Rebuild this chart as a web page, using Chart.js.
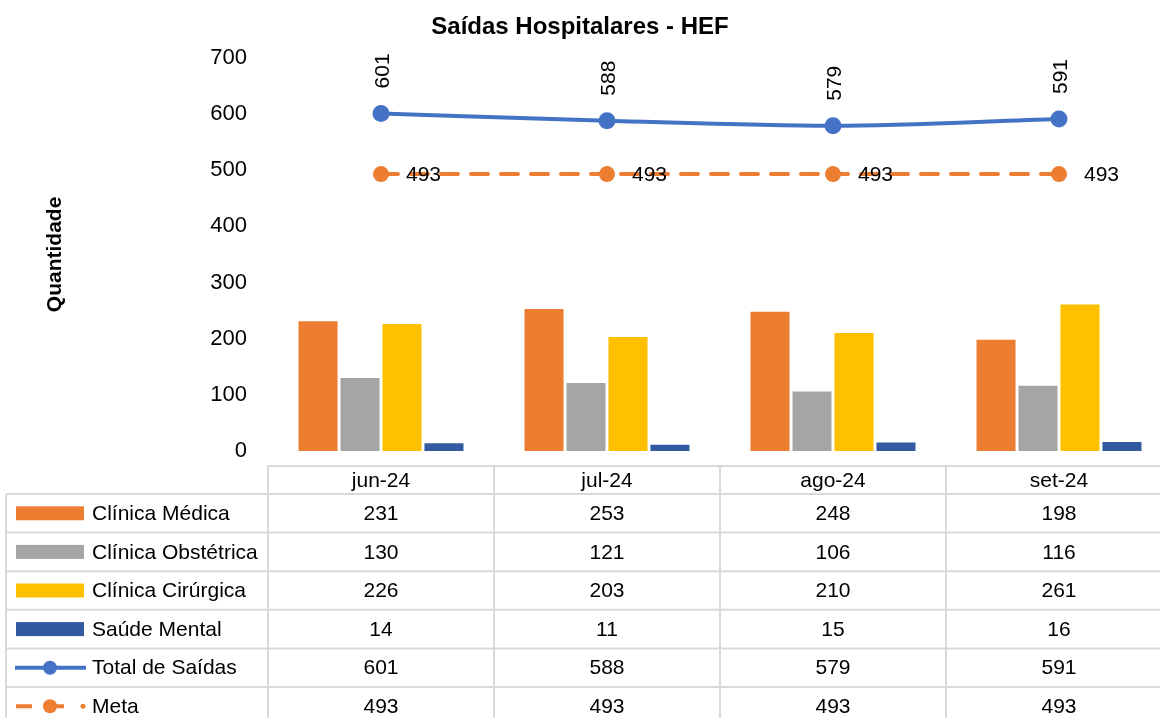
<!DOCTYPE html>
<html>
<head>
<meta charset="utf-8">
<script src="https://cdn.jsdelivr.net/npm/chart.js@4"></script>
<style>
  html, body { margin: 0; padding: 0; background: #fff; overflow: hidden; }
</style>
</head>
<body>
<canvas id="saidasChart" width="1200" height="718"></canvas>
<script>
const meses = ["jun-24", "jul-24", "ago-24", "set-24"];
const clinicaMedica = [231, 253, 248, 198];
const clinicaObstetrica = [130, 121, 106, 116];
const clinicaCirurgica = [226, 203, 210, 261];
const saudeMental = [14, 11, 15, 16];
const totalSaidas = [601, 588, 579, 591];
const meta = [493, 493, 493, 493];
const yTicks = [0, 100, 200, 300, 400, 500, 600, 700];

const FONT = "'Liberation Sans', Arial, sans-serif";
const GRID = "#d9d9d9";

// rotulos das linhas (total na vertical, meta a direita)
const lineLabels = {
  id: "lineLabels",
  afterDatasetsDraw(chart) {
    const { ctx } = chart;
    ctx.save();
    ctx.fillStyle = "#000";
    ctx.font = "21px " + FONT;
    chart.getDatasetMeta(4).data.forEach((pt, i) => {
      ctx.save();
      ctx.translate(pt.x + 2, pt.y - 25);
      ctx.rotate(-Math.PI / 2);
      ctx.textAlign = "left";
      ctx.textBaseline = "middle";
      ctx.fillText(String(totalSaidas[i]), 0, 0);
      ctx.restore();
    });
    chart.getDatasetMeta(5).data.forEach((pt, i) => {
      ctx.textAlign = "left";
      ctx.textBaseline = "middle";
      ctx.fillText(String(meta[i]), pt.x + 25, pt.y + 1);
    });
    ctx.restore();
  }
};

// tabela de dados abaixo do grafico
const dataTable = {
  id: "dataTable",
  afterDraw(chart) {
    const { ctx, chartArea, scales: { x } } = chart;
    const top = chartArea.bottom + 15;
    const headH = 28;
    const rowH = 38.6;
    const left = 6;
    const colL = chartArea.left;
    const right = chartArea.right;
    const colW = (right - colL) / meses.length;
    const rows = chart.data.datasets;
    const bottom = top + headH + rowH * rows.length;

    ctx.save();
    ctx.strokeStyle = GRID;
    ctx.lineWidth = 2;
    ctx.beginPath();
    ctx.moveTo(colL, top); ctx.lineTo(right, top);
    for (let r = 0; r <= rows.length; r++) {
      const y = top + headH + r * rowH;
      ctx.moveTo(left, y); ctx.lineTo(right, y);
    }
    ctx.moveTo(left, top + headH); ctx.lineTo(left, bottom);
    for (let c = 0; c <= meses.length; c++) {
      const xx = colL + c * colW;
      ctx.moveTo(xx, top); ctx.lineTo(xx, bottom);
    }
    ctx.stroke();

    ctx.fillStyle = "#000";
    ctx.font = "21px " + FONT;
    ctx.textAlign = "center";
    ctx.textBaseline = "middle";
    meses.forEach((m, i) => {
      ctx.fillText(m, x.getPixelForValue(i), top + headH / 2 + 1);
    });

    rows.forEach((ds, r) => {
      const cy = top + headH + r * rowH + rowH / 2;
      // icone da legenda
      if (ds.type === "line") {
        ctx.strokeStyle = ds.borderColor;
        ctx.fillStyle = ds.borderColor;
        ctx.lineWidth = 4;
        if (ds.borderDash) {
          ctx.beginPath();
          ctx.moveTo(16, cy); ctx.lineTo(32, cy);
          ctx.moveTo(50, cy); ctx.lineTo(64, cy);
          ctx.stroke();
          ctx.beginPath(); ctx.arc(83, cy, 2.5, 0, Math.PI * 2); ctx.fill();
        } else {
          ctx.beginPath();
          ctx.moveTo(15, cy); ctx.lineTo(86, cy);
          ctx.stroke();
        }
        ctx.beginPath(); ctx.arc(50, cy, 7, 0, Math.PI * 2); ctx.fill();
      } else {
        ctx.fillStyle = ds.backgroundColor;
        ctx.fillRect(16, cy - 7, 68, 14);
      }
      ctx.fillStyle = "#000";
      ctx.textAlign = "left";
      ctx.fillText(ds.label, 92, cy + 1);
      ctx.textAlign = "center";
      ds.data.forEach((v, i) => {
        ctx.fillText(String(v), x.getPixelForValue(i), cy + 1);
      });
    });
    ctx.restore();
  }
};

const barStyle = { type: "bar", borderWidth: 0, categoryPercentage: 0.743, barPercentage: 0.93, order: 2 };

new Chart(document.getElementById("saidasChart"), {
  data: {
    labels: meses,
    datasets: [
      { ...barStyle, label: "Clínica Médica", data: clinicaMedica, backgroundColor: "#ED7D31" },
      { ...barStyle, label: "Clínica Obstétrica", data: clinicaObstetrica, backgroundColor: "#A5A5A5" },
      { ...barStyle, label: "Clínica Cirúrgica", data: clinicaCirurgica, backgroundColor: "#FFC000" },
      { ...barStyle, label: "Saúde Mental", data: saudeMental, backgroundColor: "#335AA1" },
      {
        type: "line", label: "Total de Saídas", data: totalSaidas,
        borderColor: "#4472C4", backgroundColor: "#4472C4", borderWidth: 4,
        pointRadius: 8.5, pointBackgroundColor: "#4472C4", pointBorderWidth: 0,
        cubicInterpolationMode: "monotone", order: 1
      },
      {
        type: "line", label: "Meta", data: meta,
        borderColor: "#ED7D31", backgroundColor: "#ED7D31", borderWidth: 4,
        borderDash: [17, 13], borderCapStyle: "round",
        pointRadius: 8, pointBackgroundColor: "#ED7D31", pointBorderWidth: 0,
        order: 0
      }
    ]
  },
  options: {
    responsive: false,
    animation: false,
    devicePixelRatio: 1,
    layout: { padding: { left: -12, right: 28, top: 0, bottom: 267 } },
    plugins: {
      legend: { display: false },
      tooltip: { enabled: false },
      title: {
        display: true,
        text: "Saídas Hospitalares - HEF",
        color: "#000",
        font: { family: FONT, size: 24, weight: "bold" },
        padding: { top: 13, bottom: 16 }
      }
    },
    scales: {
      x: {
        display: false,
        offset: true
      },
      y: {
        min: 0,
        max: 700,
        afterFit(scale) { scale.width = 280; },
        afterBuildTicks(scale) { scale.ticks = yTicks.map(v => ({ value: v })); },
        grid: { display: false, drawTicks: false },
        border: { display: false },
        ticks: { color: "#000", padding: 21, font: { family: FONT, size: 22 } },
        title: {
          display: true,
          text: "Quantidade",
          color: "#000",
          font: { family: FONT, size: 21, weight: "bold" },
          padding: { top: 55, bottom: 0 }
        }
      }
    }
  },
  plugins: [lineLabels, dataTable]
});
</script>
</body>
</html>
